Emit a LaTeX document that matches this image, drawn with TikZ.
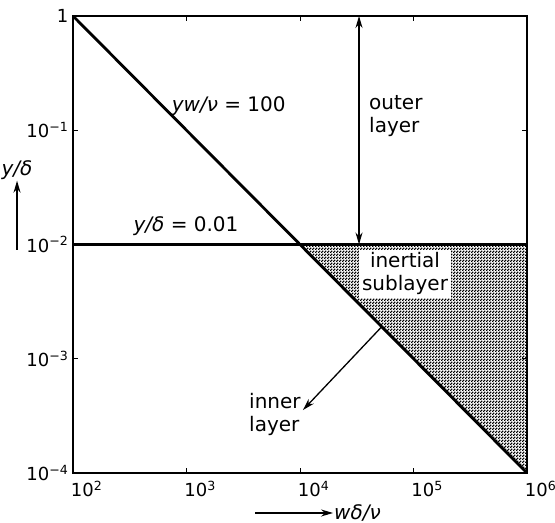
\documentclass[tikz,border=0pt]{standalone}
\usepackage{fontspec}
\setmainfont{DejaVu Sans}
\usetikzlibrary{patterns, arrows.meta, positioning}

\pgfdeclarepatternformonly{checkdots}{\pgfpointorigin}{\pgfpoint{3pt}{3pt}}{\pgfpoint{3pt}{3pt}}{%
  \pgfpathrectangle{\pgfpointorigin}{\pgfpoint{1.7pt}{1.7pt}}%
  \pgfpathrectangle{\pgfpoint{1.5pt}{1.5pt}}{\pgfpoint{1.7pt}{1.7pt}}%
  \pgfusepath{fill}}
\newcommand{\decade}[1]{10\textsuperscript{#1}}

\begin{document}
\begin{tikzpicture}[x=113.5pt, y=114.25pt,
    lbl/.style={font=\fontsize{20}{23}\selectfont, inner sep=1pt, align=left},
    num/.style={font=\fontsize{18}{20}\selectfont, inner sep=1pt},
    thinarrow/.style={line width=1.3pt, -{Stealth[length=12pt,width=7pt]}},
    heavy/.style={line width=2.8pt}]
\useasboundingbox (-0.6432,-0.4376) rectangle (4.2467,4.1400);

% corners of the plot
\coordinate (bl) at (0,0);
\coordinate (tr) at (4,4);
\coordinate (tl) at (0,4);
\coordinate (br) at (4,0);
\coordinate (ml) at (0,2);
\coordinate (mr) at (4,2);
\coordinate (cross) at (2,2);

% shaded inertial region
\fill[pattern=checkdots] (cross) -- (mr) -- (br) -- cycle;

% frame and ticks
\draw[line width=1.8pt] (bl) rectangle (tr);
\foreach \i in {1,2,3} {
  \draw[line width=1pt] (\i,0) -- ++(0,0.045);
  \draw[line width=1pt] (\i,4) -- ++(0,-0.045);
  \draw[line width=1pt] (0,\i) -- ++(0.045,0);
  \draw[line width=1pt] (4,\i) -- ++(-0.045,0);
}

% limits of the layers
\draw[heavy] (tl) -- (br);
\draw[heavy] (ml) -- (mr);

% tick labels
\node[num, anchor=east] (t0) at (-0.03,4) {1};
\node[num, anchor=east] (t1) at (-0.03,3) {\decade{−1}};
\node[num, anchor=east] (t2) at (-0.03,2) {\decade{−2}};
\node[num, anchor=east] (t3) at (-0.03,1) {\decade{−3}};
\node[num, anchor=east] (t4) at (-0.03,0) {\decade{−4}};
\foreach \i/\e in {0/2,1/3,2/4,3/5,4/6}
  \node[num, anchor=north] (x\e) at (\i+0.12,-0.06) {\decade{\e}};

% axis labels
\node[lbl] (ylab) at (-0.493,2.652) {\textit{y/δ}};
\coordinate (ytail) at (-0.493,1.952);
\draw[thinarrow] (ytail) -- (ylab.south);
\coordinate (xtail) at (1.604,-0.350);
\node[lbl, anchor=west] (xlab) at (2.291,-0.350) {\textit{wδ/ν}};
\draw[thinarrow] (xtail) -- (xlab.west);

% curve labels
\node[lbl, anchor=west] (wall) at (0.86,3.212) {\textit{yw/ν} = 100};
\node[lbl] (edge) at (0.996,2.162) {\textit{y/δ} = 0.01};

% outer layer
\coordinate (otop) at (2.52,4);
\coordinate (obot) at (2.52,2);
\draw[line width=1.3pt, {Stealth[length=12pt,width=7pt]}-{Stealth[length=12pt,width=7pt]}] (otop) -- (obot);
\node[lbl, anchor=west] (outer) at (2.599,3.125) {outer\\layer};

% inertial sublayer
\node[lbl, fill=white, align=center, inner sep=3pt] (inert) at (2.925,1.742) {inertial\\sublayer};

% inner layer
\coordinate (istart) at (2.72,1.28);
\node[lbl, anchor=west] (inner) at (1.542,0.516) {inner\\layer};
\coordinate (iend) at (2.026,0.551);
\draw[thinarrow] (istart) -- (iend);
\end{tikzpicture}
\end{document}
